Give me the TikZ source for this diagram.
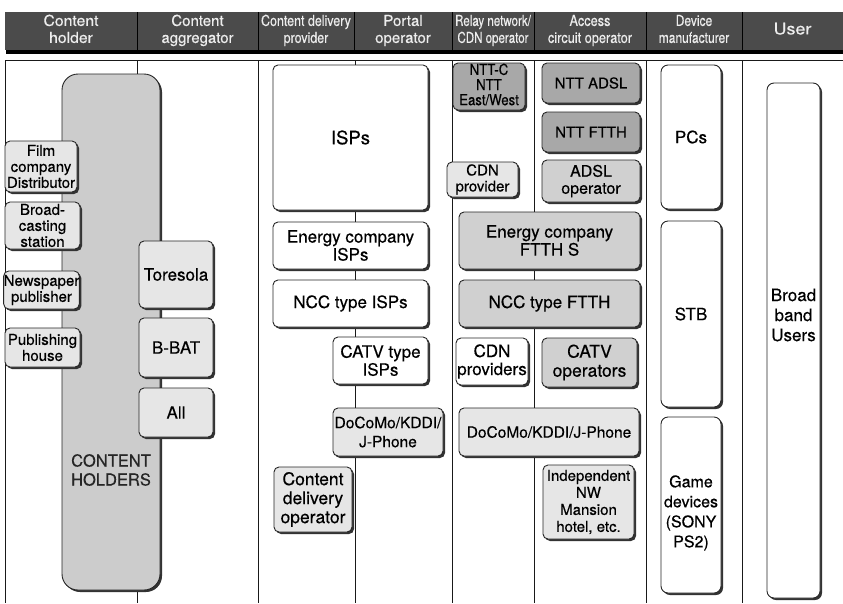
\documentclass[tikz,border=0pt]{standalone}
\usepackage{fontspec}
\setmainfont{TeX Gyre Heros}[FakeBold=0.4]
\usetikzlibrary{shadows}

\definecolor{headgray}{HTML}{4B4B4B}
\definecolor{headtext}{HTML}{EDEDED}
\definecolor{boxlight}{HTML}{E6E6E6}
\definecolor{boxmid}{HTML}{D0D0D0}
\definecolor{boxdark}{HTML}{A8A8A8}
\definecolor{holdergray}{HTML}{CCCCCC}

\newcommand{\fs}[2]{\fontsize{#1}{#2}\selectfont}
\newcommand{\hd}[2]{\scalebox{#1}[1]{\begin{tabular}{@{}c@{}}#2\end{tabular}}}

\tikzset{
  tile/.style={draw=black!85, line width=0.9pt, rounded corners=5pt,
    align=center, inner sep=0pt, font=\fs{17}{18},
    drop shadow={shadow xshift=2pt, shadow yshift=-2pt, fill=black!80, opacity=1}},
  smalltxt/.style={font=\fs{15}{16}},
  headtxt/.style={text=headtext, font=\fs{15}{17}, inner sep=0pt},
  lane/.style={black!90, line width=0.8pt},
}

\begin{document}
\begin{tikzpicture}[x=1pt, y=-1pt]
  \useasboundingbox (0,0) rectangle (843,603);

  % --- header band ---
  \fill[black] (6,50) rectangle (843,54);
  \fill[headgray] (5,12) rectangle (843,50);
  \foreach \x in {137,258,354,452,534,646,742}
    \draw[black, line width=0.8pt] (\x,12) -- (\x,50);
  \node[headtxt] (hholder) at (71,31) {\hd{1.05}{Content\\holder}};
  \node[headtxt] (haggr) at (197.5,31) {\hd{1}{Content\\aggregator}};
  \node[headtxt] (hcdp) at (306,31) {\hd{0.83}{Content delivery\\provider}};
  \node[headtxt] (hportal) at (403,31) {\hd{1}{Portal\\operator}};
  \node[headtxt] (hrelay) at (493,31) {\hd{0.77}{Relay network/\\CDN operator}};
  \node[headtxt] (haccess) at (590,31) {\hd{0.85}{Access\\circuit operator}};
  \node[headtxt] (hdevice) at (694,31) {\hd{0.8}{Device\\manufacturer}};
  \node[headtxt, font=\fs{16}{17}] (huser) at (792.5,31) {\hd{1.12}{User}};

  % --- lanes ---
  \draw[lane] (5,60) -- (843,60);
  \foreach \x in {5,137,258,355,452,534,646,742}
    \draw[lane] (\x,60) -- (\x,603);

  % --- content holders ---
  \node[tile, fill=holdergray, rounded corners=16pt, minimum width=98pt, minimum height=516pt] (holders) at (111,332) {};
  \node[text=black!85, align=center, font=\fs{16.5}{19}] (holderstext) at (111,470) {CONTENT\\HOLDERS};
  \node[tile, smalltxt, fill=boxlight, minimum width=72pt, minimum height=51pt] (film) at (41,166.5) {Film\\company\\Distributor};
  \node[tile, smalltxt, fill=boxlight, minimum width=75pt, minimum height=47pt] (broad) at (42.5,225.5) {Broad-\\casting\\station};
  \node[tile, smalltxt, fill=boxlight, minimum width=75pt, minimum height=38pt] (news) at (41.5,290) {Newspaper\\publisher};
  \node[tile, smalltxt, fill=boxlight, minimum width=75pt, minimum height=39pt] (pub) at (42.5,347.5) {Publishing\\house};

  % --- aggregators ---
  \node[tile, fill=boxlight, minimum width=74pt, minimum height=67pt] (toresola) at (176,274.5) {Toresola};
  \node[tile, fill=boxlight, minimum width=74pt, minimum height=59pt] (bbat) at (176,347.5) {B-BAT};
  \node[tile, fill=boxlight, minimum width=74pt, minimum height=49pt] (all) at (176,412.5) {All};

  % --- delivery / portal ---
  \node[tile, fill=white, font=\fs{18.5}{19}, minimum width=155pt, minimum height=145pt] (isps) at (350.5,137.5) {ISPs};
  \node[tile, fill=white, minimum width=155pt, minimum height=47pt] (energyisps) at (350.5,245.5) {Energy company\\ISPs};
  \node[tile, fill=white, minimum width=155pt, minimum height=47pt] (nccisps) at (350.5,303.5) {NCC type ISPs};
  \node[tile, fill=white, minimum width=95pt, minimum height=47pt] (catvisps) at (380.5,360.5) {CATV type\\ISPs};
  \node[tile, fill=boxlight, font=\fs{15.5}{19}, minimum width=110pt, minimum height=48pt] (mobileisp) at (388,432) {DoCoMo/KDDI/\\J-Phone};
  \node[tile, fill=boxlight, font=\fs{17.5}{19}, minimum width=78pt, minimum height=65pt] (cdo) at (313,499.5) {Content\\delivery\\operator};

  % --- relay network ---
  \node[tile, fill=boxdark, font=\fs{15}{14}, minimum width=72pt, minimum height=47pt] (nttc) at (489,86.5) {\hd{0.88}{NTT-C\\NTT\\East/West}};
  \node[tile, smalltxt, fill=boxlight, minimum width=71pt, minimum height=35pt] (cdnp) at (482.5,179.5) {CDN\\provider};
  \node[tile, fill=white, minimum width=72pt, minimum height=47pt] (cdnps) at (492,361.5) {CDN\\providers};

  % --- access circuit ---
  \node[tile, fill=boxdark, font=\fs{15}{16}, minimum width=98pt, minimum height=40pt] (nttadsl) at (591,83) {NTT ADSL};
  \node[tile, fill=boxdark, font=\fs{15}{16}, minimum width=98pt, minimum height=40pt] (nttftth) at (591,132) {NTT FTTH};
  \node[tile, fill=boxmid, font=\fs{16}{17}, minimum width=98pt, minimum height=42pt] (adslop) at (591,181) {ADSL\\operator};
  \node[tile, fill=boxmid, minimum width=181pt, minimum height=57pt] (energyftth) at (549.5,240.5) {Energy company\\FTTH S};
  \node[tile, fill=boxmid, minimum width=181pt, minimum height=47pt] (nccftth) at (549.5,303.5) {NCC type FTTH};
  \node[tile, fill=boxmid, font=\fs{17.5}{19}, minimum width=95pt, minimum height=49pt] (catvop) at (589.5,362.5) {CATV\\operators};
  \node[tile, fill=boxlight, font=\fs{15.5}{17}, minimum width=180pt, minimum height=48pt] (mobilenw) at (549,432) {DoCoMo/KDDI/J-Phone};
  \node[tile, fill=boxlight, font=\fs{15}{17}, minimum width=91pt, minimum height=74pt] (indep) at (588.5,502) {Independent\\NW\\Mansion\\hotel, etc.};

  % --- devices ---
  \node[tile, fill=white, rounded corners=7pt, minimum width=60pt, minimum height=144pt] (pcs) at (691,137) {PCs};
  \node[tile, fill=white, rounded corners=7pt, minimum width=60pt, minimum height=186pt] (stb) at (691,314) {STB};
  \node[tile, fill=white, rounded corners=7pt, minimum width=60pt, minimum height=176pt] (game) at (691,505) {};
  \node[align=center, font=\fs{16}{20}, inner sep=0pt] (gametext) at (691,513) {Game\\devices\\(SONY\\PS2)};

  % --- users ---
  \node[tile, fill=white, rounded corners=7pt, minimum width=53pt, minimum height=515pt] (users) at (793.5,340.5) {};
  \node[align=center, font=\fs{17}{20}, inner sep=0pt] (userstext) at (793.5,315) {Broad\\band\\Users};
\end{tikzpicture}
\end{document}
